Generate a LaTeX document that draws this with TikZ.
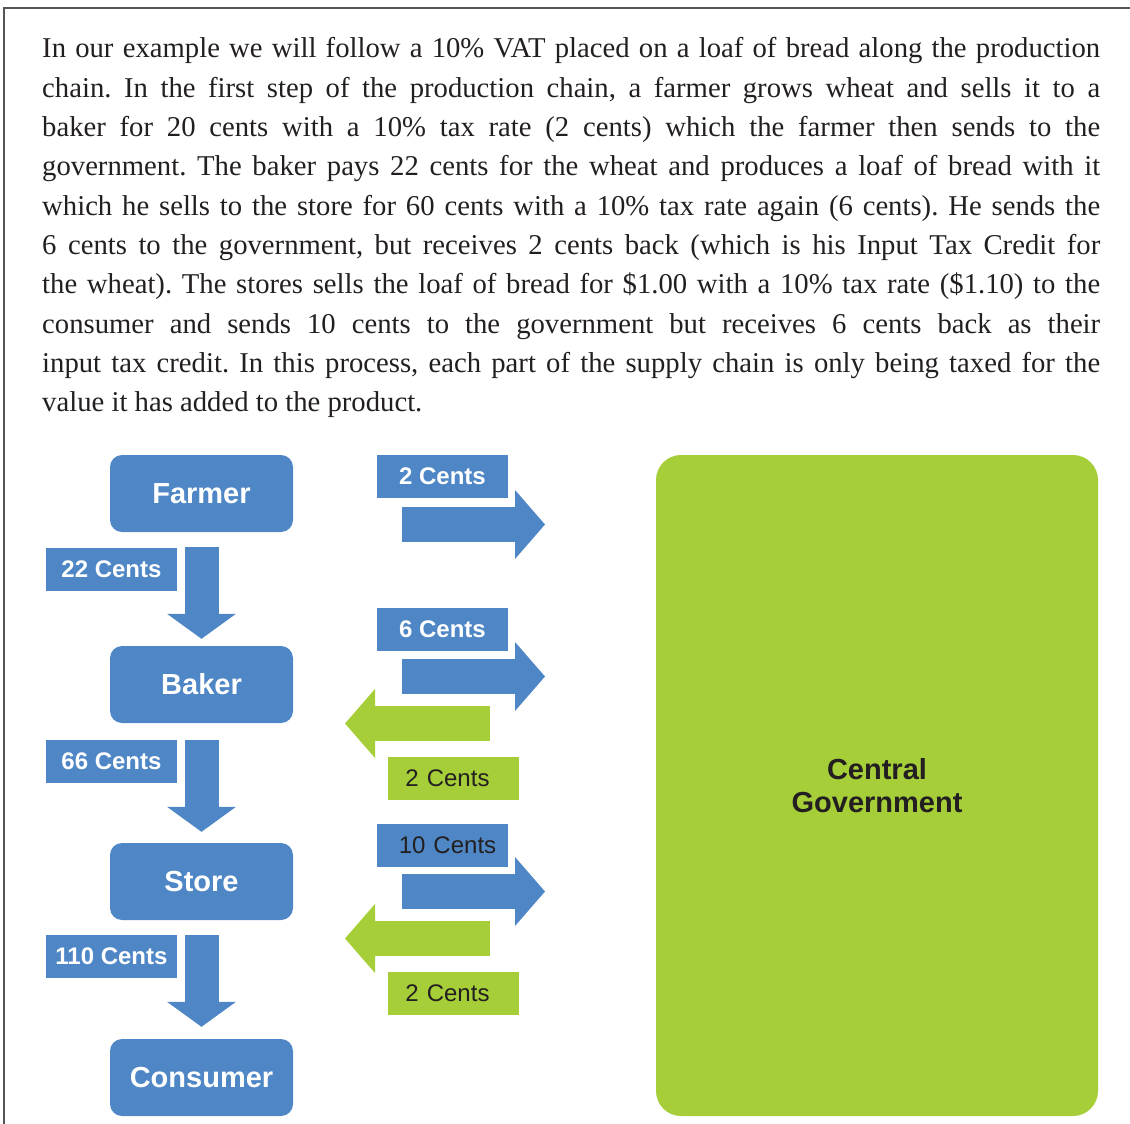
\documentclass[tikz,border=0pt]{standalone}
\usepackage{fontspec}
\setmainfont{Liberation Serif}
\setsansfont{Liberation Sans}
\usetikzlibrary{arrows.meta}
\definecolor{ChainBlue}{RGB}{79,135,198}
\definecolor{GovGreen}{RGB}{166,206,57}
\definecolor{TextGray}{RGB}{35,31,32}
\definecolor{FrameGray}{RGB}{85,85,85}

\begin{document}
\frenchspacing
\begin{tikzpicture}[
  x=1pt, y=-1pt,
  actor/.style={fill=ChainBlue, rounded corners=12pt, minimum width=183pt, minimum height=77pt,
                inner sep=0pt, text=white, font=\sffamily\bfseries\fontsize{29}{33}\selectfont},
  tag/.style={fill=ChainBlue, minimum width=131pt, minimum height=43pt, inner sep=0pt,
              text=white, font=\sffamily\bfseries\fontsize{24}{28}\selectfont},
  plaintag/.style={tag, text=TextGray, font=\sffamily\fontsize{24}{28}\selectfont},
  credit/.style={plaintag, fill=GovGreen},
  flow/.style={draw=ChainBlue, line width=34pt, -{Triangle[length=25pt, width=69pt, line width=0pt 0 0]}},
  pay/.style={draw=ChainBlue, line width=35pt, -{Triangle[length=30pt, width=69pt, line width=0pt 0 0]}},
  back/.style={pay, draw=GovGreen}
]
\useasboundingbox (0,0) rectangle (1130,1124);
\draw[FrameGray, line width=1.2pt] (4,1124) -- (4,8) -- (1130,8);

% text above the chart
\node[anchor=north west, inner sep=0pt, text width=1058pt, align=justify, text=TextGray,
      font=\fontsize{28.7}{39.3}\selectfont] (story) at (42,37.5)
  {In our example we will follow a 10\% VAT placed on a loaf of bread along the production\linebreak
   chain. In the first step of the production chain, a farmer grows wheat and sells it to a\linebreak
   baker for 20 cents with a 10\% tax rate (2 cents) which the farmer then sends to the\linebreak
   government. The baker pays 22 cents for the wheat and produces a loaf of bread with it\linebreak
   which he sells to the store for 60 cents with a 10\% tax rate again (6 cents). He sends the\linebreak
   6 cents to the government, but receives 2 cents back (which is his Input Tax Credit for\linebreak
   the wheat). The stores sells the loaf of bread for \$1.00 with a 10\% tax rate (\$1.10) to the\linebreak
   consumer and sends 10 cents to the government but receives 6 cents back as their\linebreak
   input tax credit. In this process, each part of the supply chain is only being taxed for the\linebreak
   value it has added to the product.};

% production chain
\node[actor] (farmer)   at (201.5,493.5)  {Farmer};
\node[actor] (baker)    at (201.5,684.5)  {Baker};
\node[actor] (store)    at (201.5,881.5)  {Store};
\node[actor] (consumer) at (201.5,1077.5) {Consumer};

\draw[flow] ([yshift=-15pt]farmer.south) -- ([yshift=7pt]baker.north);
\draw[flow] ([yshift=-17pt]baker.south) -- ([yshift=11pt]store.north);
\draw[flow] ([yshift=-15pt]store.south) -- ([yshift=12pt]consumer.north);

\node[tag] (price1) at (111.5,569.5) {22 Cents};
\node[tag] (price2) at (111.5,761.5) {66 Cents};
\node[tag] (price3) at (111.5,956.5) {110 Cents};

% government
\node[fill=GovGreen, rounded corners=25pt, minimum width=442pt, minimum height=661pt,
      align=center, text=TextGray, font=\sffamily\bfseries\fontsize{29}{33}\selectfont]
  (gov) at (877,785.5) {Central\\Government};

% tax paid and credits back
\coordinate (pay1s) at (402,524.5); \coordinate (pay1e) at (545,524.5);
\coordinate (pay2s) at (402,676.5); \coordinate (pay2e) at (545,676.5);
\coordinate (pay3s) at (402,891.5); \coordinate (pay3e) at (545,891.5);
\coordinate (back1s) at (490,723.5); \coordinate (back1e) at (345,723.5);
\coordinate (back2s) at (490,938.5); \coordinate (back2e) at (345,938.5);

\draw[pay] (pay1s) -- (pay1e);
\draw[pay] (pay2s) -- (pay2e);
\draw[pay] (pay3s) -- (pay3e);
\draw[back] (back1s) -- (back1e);
\draw[back] (back2s) -- (back2e);

\node[tag] (tax1) at (442.5,476.5) {2 Cents};
\node[tag] (tax2) at (442.5,629.5) {6 Cents};
\node[plaintag, inner xsep=0pt, text width=131pt, align=center] (tax3) at (442.5,845.5) {\hspace*{10pt}10 Cents};
\node[credit, text width=131pt, align=center] (itc1) at (453.5,778.5) {2 Cents\hspace*{12pt}};
\node[credit, text width=131pt, align=center] (itc2) at (453.5,993) {2 Cents\hspace*{12pt}};
\end{tikzpicture}
\end{document}
